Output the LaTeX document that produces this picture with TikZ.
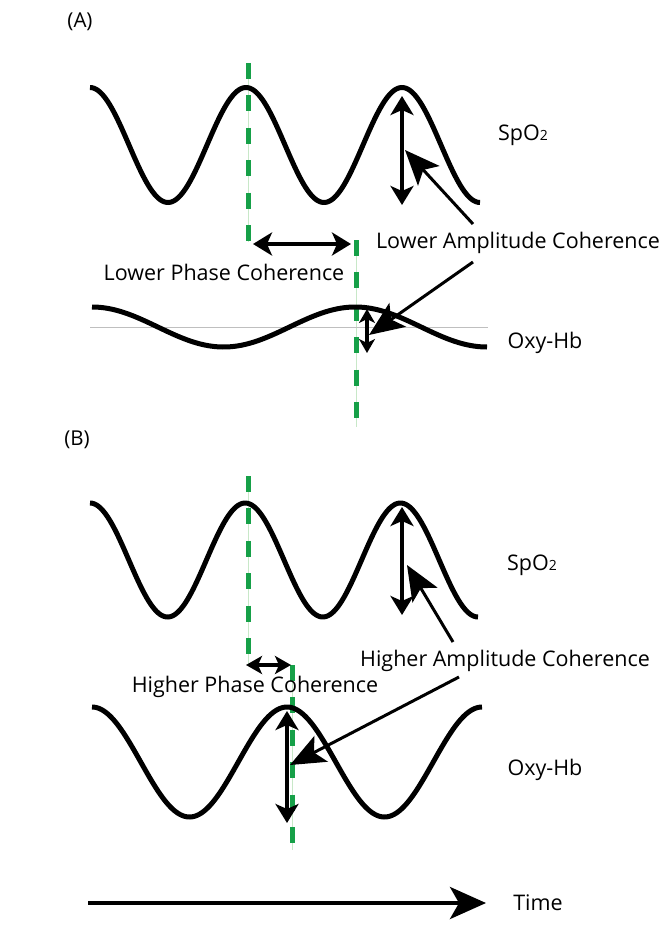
\documentclass[tikz,border=0pt]{standalone}
\usepackage{fontspec}
\setmainfont{Open Sans}
\usetikzlibrary{arrows.meta}
\definecolor{dashgreen}{RGB}{22,160,72}
\definecolor{palegreen}{RGB}{200,232,200}
\tikzset{
  wave/.style={line width=5pt, black, line cap=butt},
  greenline/.style={line width=5pt, dashgreen, dash pattern=on 16pt off 16.4pt},
  thingreen/.style={line width=0.6pt, palegreen},
  dbl/.style={line width=4pt, {Stealth[length=19pt,width=23pt,inset=5pt]}-{Stealth[length=19pt,width=23pt,inset=5pt]}},
  dblsmall/.style={line width=3.5pt, {Stealth[length=14pt,width=16pt,inset=4pt]}-{Stealth[length=14pt,width=16pt,inset=4pt]}},
  pointer/.style={line width=3pt, -{Stealth[length=35pt,width=29pt,inset=8pt]}},
  lbl/.style={font=\fontsize{21.5}{24}\selectfont, inner sep=0pt},
  panel/.style={font=\fontsize{20.5}{22}\selectfont, inner sep=0pt}
}
\newcommand{\spotwo}{SpO{\fontsize{14}{14}\selectfont 2}}
\begin{document}
\begin{tikzpicture}[x=1pt,y=-1pt]
\useasboundingbox (0,0) rectangle (666,944);

% ---------- Panel A ----------
\node[panel] (labA) at (80,22) {(A)};
% green lines (under waves)
\draw[thingreen] (248,63) -- (248,242);
\draw[greenline] (248,63) -- (248,242);
\draw[thingreen] (356,240) -- (356,427);
\draw[greenline] (356,240) -- (356,427);
% baseline
\draw[line width=0.7pt, black!25] (90,327) -- (488,327);
% waves
\draw[wave] plot[domain=90:480, samples=200] (\x, {145 - 57.5*cos((\x-90)/156*360)});
\draw[wave] plot[domain=92:487, samples=200] (\x, {327 - 20*cos((\x-92)/263.3*360)});
% labels
\node[lbl] (spoA) at (523,135) {\spotwo};
\node[lbl] (oxyA) at (545,343) {Oxy-Hb};
\node[lbl] (lpc) at (224,272) {Lower Phase Coherence};
\node[lbl] (lac) at (518,243) {Lower Amplitude Coherence};
% arrows
\coordinate (aTop) at (402,96);
\coordinate (aBot) at (402,205);
\draw[dbl] (aTop) -- (aBot);
\coordinate (phL) at (253,244);
\coordinate (phR) at (351,244);
\draw[dbl] (phL) -- (phR);
\coordinate (oTop) at (367,309);
\coordinate (oBot) at (367,353);
\draw[dblsmall] (oTop) -- (oBot);
\coordinate (p1s) at (473,224);
\coordinate (p1t) at (405,150);
\draw[pointer] (p1s) -- (p1t);
\coordinate (p2s) at (473,262);
\coordinate (p2t) at (369,335);
\draw[pointer] (p2s) -- (p2t);

% ---------- Panel B ----------
\node[panel] (labB) at (77,440) {(B)};
\draw[thingreen] (248,476) -- (248,664);
\draw[greenline] (248,476) -- (248,664);
\draw[thingreen] (292,665) -- (292,850);
\draw[greenline] (292,665) -- (292,850);
\draw[wave] plot[domain=90:478, samples=200] (\x, {560 - 57*cos((\x-90)/155.2*360)});
\draw[wave] plot[domain=92:482, samples=200] (\x, {762 - 55*cos((\x-92)/195*360)});
\node[lbl] (spoB) at (532,565) {\spotwo};
\node[lbl] (oxyB) at (545,770) {Oxy-Hb};
\node[lbl] (hpc) at (255,687) {Higher Phase Coherence};
\node[lbl] (hac) at (505,661) {Higher Amplitude Coherence};
\coordinate (bTop) at (402,507);
\coordinate (bBot) at (402,615);
\draw[dbl] (bTop) -- (bBot);
\coordinate (hL) at (246,665);
\coordinate (hR) at (291,665);
\draw[{Stealth[length=16pt,width=18pt,inset=4pt]}-{Stealth[length=16pt,width=18pt,inset=4pt]}, line width=4pt] (hL) -- (hR);
\coordinate (qTop) at (287,711);
\coordinate (qBot) at (287,823);
\draw[dbl] (qTop) -- (qBot);
\coordinate (p3s) at (453,642);
\coordinate (p3t) at (407,565);
\draw[pointer] (p3s) -- (p3t);
\coordinate (p4s) at (459,677);
\coordinate (p4t) at (290,765);
\draw[pointer] (p4s) -- (p4t);

% ---------- Time axis ----------
\coordinate (t0) at (88,903);
\coordinate (t1) at (486,903);
\draw[line width=4pt, -{Stealth[length=36pt,width=32pt,inset=9pt]}] (t0) -- (t1);
\node[lbl] (time) at (538,903) {Time};
\end{tikzpicture}
\end{document}
